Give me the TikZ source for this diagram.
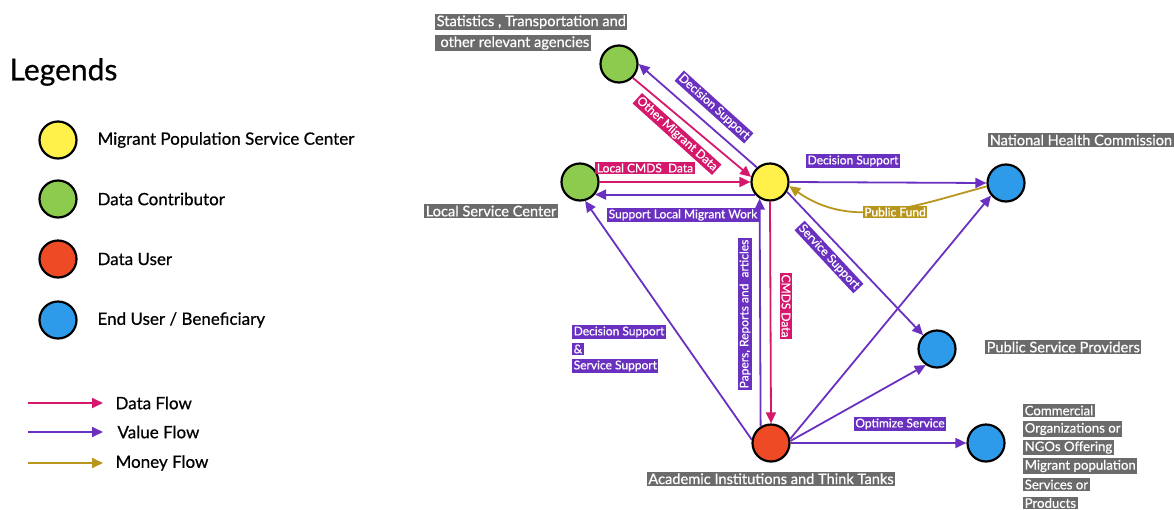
\documentclass[tikz,border=0pt]{standalone}
\usepackage{fontspec}
\setmainfont{Lato}[FakeBold=0.6]
\usetikzlibrary{arrows.meta, positioning}

\definecolor{dataclr}{HTML}{D6186C}
\definecolor{valueclr}{HTML}{6A30C0}
\definecolor{moneyclr}{HTML}{B8961E}
\definecolor{boxgray}{HTML}{6B6B6B}
\definecolor{hubclr}{HTML}{FFF04A}
\definecolor{contribclr}{HTML}{8DCB4E}
\definecolor{userclr}{HTML}{EF4A26}
\definecolor{endclr}{HTML}{2E9BEA}

\begin{document}
\begin{tikzpicture}[x=1pt, y=-1pt]
    \tikzstyle{actor}=[circle, draw, line width=2.2pt, minimum size=37pt, inner sep=0pt]
    \tikzstyle{namebox}=[fill=boxgray, text=white, inner xsep=1.5pt, inner ysep=1.5pt, font=\fontsize{14.6}{16}\selectfont]
    \tikzstyle{flowlabel}=[text=white, inner xsep=1.5pt, inner ysep=1.5pt, font=\fontsize{12}{14}\selectfont]
    \tikzstyle{datalabel}=[flowlabel, fill=dataclr]
    \tikzstyle{valuelabel}=[flowlabel, fill=valueclr]
    \tikzstyle{moneylabel}=[flowlabel, fill=moneyclr]
    \tikzstyle{flow}=[line width=1.8pt, -{Triangle[length=11pt, width=10pt]}]
    \tikzstyle{dataflow}=[flow, draw=dataclr]
    \tikzstyle{valueflow}=[flow, draw=valueclr]
    \tikzstyle{moneyflow}=[flow, draw=moneyclr]
    \tikzstyle{keytext}=[anchor=west, font=\fontsize{17}{20}\selectfont]

    \useasboundingbox (0,0) rectangle (1174,509);

    % legend
    \node[anchor=west, font=\fontsize{30}{34}\selectfont] (legends) at (6,72) {Legends};
    \node[actor, fill=hubclr] (keyhub) at (58,140) {};
    \node[actor, fill=contribclr] (keycontrib) at (58,199) {};
    \node[actor, fill=userclr] (keyuser) at (58,259) {};
    \node[actor, fill=endclr] (keyend) at (58,320) {};
    \node[keytext] (keyhubtxt) at (94,140) {Migrant Population Service Center};
    \node[keytext] (keycontribtxt) at (94,199) {Data Contributor};
    \node[keytext] (keyusertxt) at (94,259) {Data User};
    \node[keytext] (keyendtxt) at (94,320) {End User / Beneficiary};

    \coordinate (keydataA) at (28,403);
    \coordinate (keydataB) at (103,403);
    \coordinate (keyvalueA) at (28,432);
    \coordinate (keyvalueB) at (103,432);
    \coordinate (keymoneyA) at (28,463);
    \coordinate (keymoneyB) at (103,463);
    \draw[dataflow] (keydataA) -- (keydataB);
    \draw[valueflow] (keyvalueA) -- (keyvalueB);
    \draw[moneyflow] (keymoneyA) -- (keymoneyB);
    \node[keytext] (keydatatxt) at (112,403) {Data Flow};
    \node[keytext] (keyvaluetxt) at (114,432) {Value Flow};
    \node[keytext] (keymoneytxt) at (112,463) {Money Flow};

    % actors
    \node[actor, fill=contribclr] (stats) at (619,64) {};
    \node[actor, fill=contribclr] (local) at (580,182) {};
    \node[actor, fill=hubclr] (hub) at (770,182) {};
    \node[actor, fill=endclr] (nhc) at (1006,183) {};
    \node[actor, fill=endclr] (psp) at (937,349) {};
    \node[actor, fill=endclr] (commerce) at (986,443) {};
    \node[actor, fill=userclr] (academy) at (771,443) {};

    \node[namebox, anchor=west] (statsname1) at (435,22) {Statistics , Transportation and};
    \node[namebox, anchor=west] (statsname2) at (435,43) {\ other relevant agencies};
    \node[namebox] (localname) at (491,211) {Local Service Center};
    \node[namebox, anchor=west] (nhcname) at (988,140) {National Health Commission};
    \node[namebox, anchor=west] (pspname) at (985,347) {Public Service Providers};
    \node[namebox, below=9pt of academy] (academyname) {Academic Institutions and Think Tanks};
    \foreach \txt [count=\i] in {Commercial, Organizations or, NGOs Offering,
        Migrant population, Services or, Products}
        \node[namebox, anchor=west, font=\fontsize{13.2}{15}\selectfont] (commname-\i) at (1023,392+18.5*\i) {\txt};

    % flows
    \draw[dataflow] (stats.-45) -- (hub.165);
    \draw[valueflow] (hub.132) -- (stats.east);
    \draw[dataflow] (local.east) -- (hub.west);
    \draw[valueflow] (hub.220) -- (local.-40);
    \draw[valueflow] (hub.east) -- (nhc.west);
    \draw[moneyflow] (nhc.190) to[out=195, in=-35] (hub.-12);
    \draw[valueflow] (hub.-30) -- (psp.135);
    \draw[dataflow] (hub.south) -- (academy.north);
    \draw[valueflow] (academy.122) -- (hub.-122);
    \draw[valueflow] (academy.170) -- (local.-75);
    \draw[valueflow] (academy.12) -- (nhc.220);
    \draw[valueflow] (academy.6) -- (psp.235);
    \draw[valueflow] (academy.east) -- (commerce.west);

    % flow labels
    \node[valuelabel, rotate=-42] (statssupport) at (714,107) {Decision Support};
    \node[datalabel, rotate=-42] (otherdata) at (677,134) {Other Migrant Data};
    \node[datalabel] (localdata) at (645,168) {Local CMDS\ \ Data};
    \node[valuelabel] (localwork) at (683,215) {Support Local Migrant Work};
    \node[valuelabel] (nhcsupport) at (853,161) {Decision Support};
    \node[moneylabel] (publicfund) at (895,212) {Public Fund};
    \node[valuelabel, rotate=-47] (servicesupport) at (829,257) {Service Support};
    \node[datalabel, rotate=-90] (cmdsdata) at (786,306) {CMDS Data};
    \node[valuelabel, rotate=90] (papers) at (745,314) {Papers, Reports and\ \ articles};
    \node[valuelabel] (optimize) at (900,424) {Optimize Service};
    \foreach \txt [count=\i] in {Decision Support, \&, Service Support}
        \node[valuelabel, anchor=west] (localsupport-\i) at (572,315+17*\i) {\txt};
\end{tikzpicture}
\end{document}
